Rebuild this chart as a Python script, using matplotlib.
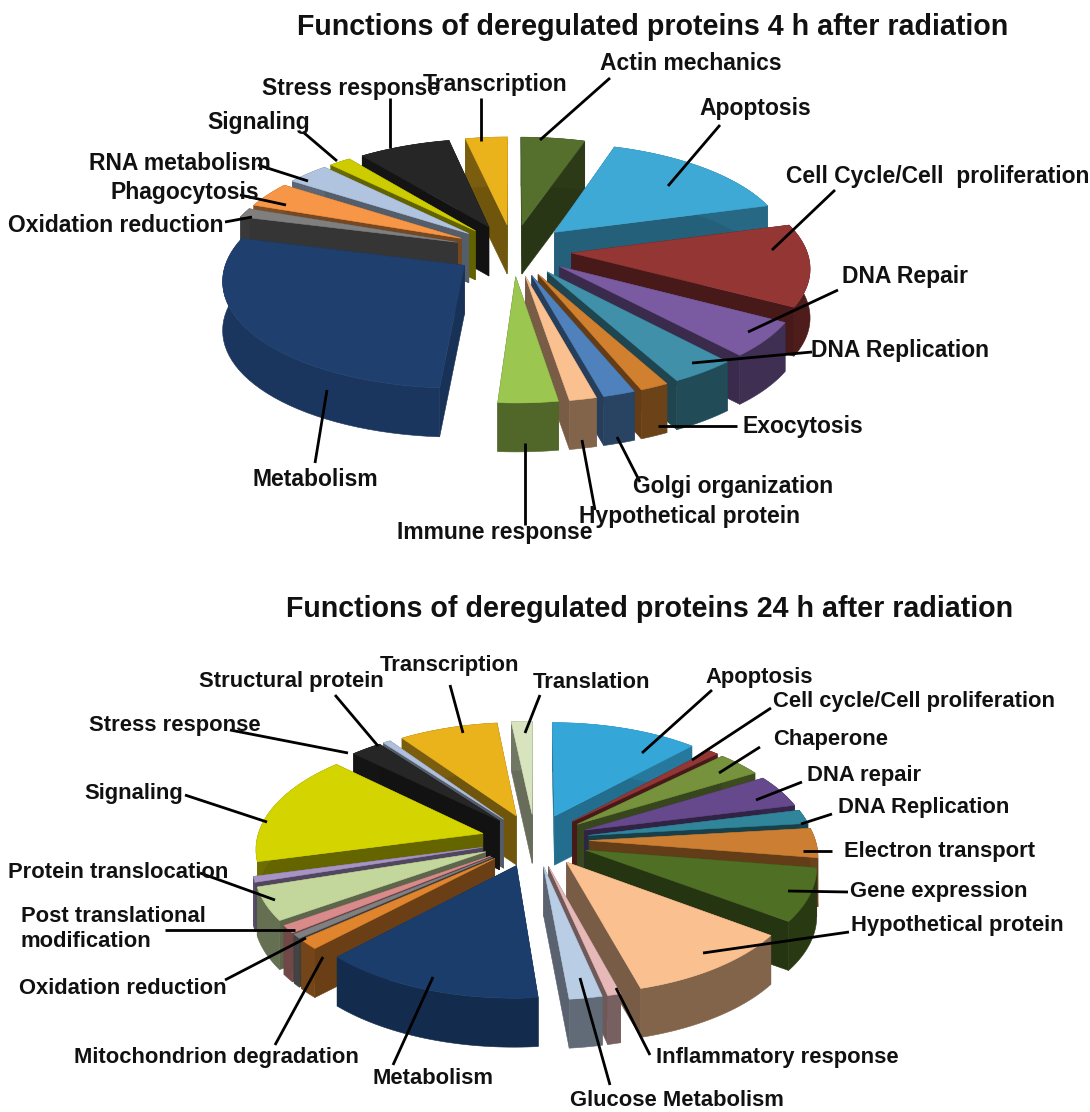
import numpy as np
import matplotlib
matplotlib.use("Agg")
import matplotlib.pyplot as plt
from matplotlib.patches import Polygon

plt.rcParams['font.family'] = ['Liberation Sans', 'DejaVu Sans']

# Share of deregulated proteins per function, 4 h after radiation
functions_4h = ["Actin mechanics", "Apoptosis", "Cell Cycle/Cell  proliferation", "DNA Repair",
                "DNA Replication", "Exocytosis", "Golgi organization", "Hypothetical protein",
                "Immune response", "Metabolism", "Oxidation reduction", "Phagocytosis",
                "RNA metabolism", "Signaling", "Stress response", "Transcription"]
shares_4h = [5.0, 15.5, 12.5, 5.3, 3.9, 1.7, 1.9, 1.6, 3.5, 28.0, 1.4, 3.9, 3.3, 1.7, 7.2, 3.3]
colors_4h = ["#55702d", "#3fa9d6", "#943634", "#7a5aa0", "#3f90a8", "#d0802f", "#4f81bd", "#fac090",
             "#9bc64f", "#1f3f6e", "#7f7f7f", "#f79646", "#b0c4e0", "#cccc00", "#262626", "#ebb31b"]

# Share of deregulated proteins per function, 24 h after radiation
functions_24h = ["Apoptosis", "Cell cycle/Cell proliferation", "Chaperone", "DNA repair",
                 "DNA Replication", "Electron transport", "Gene expression", "Hypothetical protein",
                 "Inflammatory response", "Glucose Metabolism", "Metabolism", "Mitochondrion degradation",
                 "Oxidation reduction", "Post translational\nmodification", "Protein translocation",
                 "", "Signaling", "Stress response", "Structural protein", "Transcription", "Translation"]
shares_24h = [11.9, 0.8, 3.6, 4.7, 2.0, 4.2, 7.5, 10.6, 0.8, 2.0, 13.6, 1.4,
              0.6, 1.1, 4.7, 0.8, 16.0, 2.5, 0.6, 8.0, 1.7]
colors_24h = ["#35a6d8", "#943634", "#76923c", "#66498c", "#31859b", "#cc7f33", "#4f6f24", "#fac090",
              "#e6b9b8", "#b9cde5", "#1b3d6c", "#e0842e", "#808080", "#d98a8a", "#c3d69b",
              "#a794c4", "#d4d400", "#262626", "#b0c0dc", "#ebb31b", "#d7e4bd"]

# Wall darkening per wedge; dark blue and grey need their own factor
WALL_SHADE = 0.52
wall_overrides_4h = {"Metabolism": 0.85, "Oxidation reduction": 0.45, "Apoptosis": 0.62}
wall_overrides_24h = {"Metabolism": 0.72, "Apoptosis": 0.72}

# Text placement: left edge x, vertical centre y, then the leader line
labels_4h = {
    "Actin mechanics": (600, 64, (610, 78), (540, 140)),
    "Apoptosis": (699, 109, (720, 125), (668, 186)),
    "Cell Cycle/Cell  proliferation": (786, 177, (835, 190), (772, 250)),
    "DNA Repair": (842, 277, (838, 290), (748, 332)),
    "DNA Replication": (811, 351, (812, 352), (692, 363)),
    "Exocytosis": (743, 427, (737, 426), (658, 426)),
    "Golgi organization": (633, 486, (640, 482), (617, 437)),
    "Hypothetical protein": (579, 517, (595, 510), (582, 440)),
    "Immune response": (397, 533, (525, 525), (525, 443)),
    "Metabolism": (252, 479, (315, 463), (327, 390)),
    "Oxidation reduction": (8, 225, (225, 222), (252, 217)),
    "Phagocytosis": (110, 192, (240, 195), (286, 205)),
    "RNA metabolism": (89, 164, (258, 165), (308, 181)),
    "Signaling": (207, 122, (303, 132), (337, 161)),
    "Stress response": (262, 89, (390, 98), (390, 148)),
    "Transcription": (423, 85, (481, 98), (481, 141)),
}
labels_24h = {
    "Apoptosis": (705, 677, (712, 690), (642, 753)),
    "Cell cycle/Cell proliferation": (773, 701, (771, 708), (692, 760)),
    "Chaperone": (773, 739, (760, 747), (719, 773)),
    "DNA repair": (807, 776, (802, 782), (756, 800)),
    "DNA Replication": (838, 807, (832, 814), (801, 824)),
    "Electron transport": (844, 852, (832, 851), (803, 851)),
    "Gene expression": (850, 891, (848, 892), (788, 891)),
    "Hypothetical protein": (851, 926, (849, 932), (703, 953)),
    "Inflammatory response": (656, 1057, (650, 1055), (616, 988)),
    "Glucose Metabolism": (570, 1101, (610, 1085), (580, 978)),
    "Metabolism": (372, 1079, (393, 1065), (433, 977)),
    "Mitochondrion degradation": (74, 1057, (275, 1045), (323, 957)),
    "Oxidation reduction": (19, 988, (225, 980), (306, 938)),
    "Post translational\nmodification": (21, 929, (165, 930), (295, 930)),
    "Protein translocation": (8, 873, (200, 873), (275, 900)),
    "Signaling": (84, 794, (185, 795), (267, 822)),
    "Stress response": (89, 726, (230, 730), (348, 753)),
    "Structural protein": (199, 681, (335, 695), (378, 746)),
    "Transcription": (380, 665, (450, 685), (463, 733)),
    "Translation": (533, 682, (540, 695), (525, 733)),
}


def darken(color, factor):
    r, g, b = matplotlib.colors.to_rgb(color)
    return (r * factor, g * factor, b * factor)


def project(u, v, geo):
    """Map ground-plane coordinates to the page with a mild perspective."""
    s = 1.0 / (1.0 + geo["persp"] * np.asarray(v))
    return geo["cx"] + geo["rx"] * np.asarray(u) * s, geo["cy"] - geo["ry"] * np.asarray(v) * s


def draw_pie(ax, names, shares, colors, overrides, geo):
    edges = np.concatenate([[0.0], np.cumsum(shares)]) / np.sum(shares) * 2 * np.pi
    mids = (edges[:-1] + edges[1:]) / 2
    # Paint from the back of the pie towards the viewer
    for i in np.argsort(-np.cos(mids)):
        ox, oy = geo["explode"] * np.sin(mids[i]), geo["explode"] * np.cos(mids[i])
        theta = np.linspace(edges[i], edges[i + 1], 40)
        u = np.concatenate([[ox], ox + np.sin(theta)])
        v = np.concatenate([[oy], oy + np.cos(theta)])
        x, y = project(u, v, geo)
        y_low = y + geo["depth"]
        top = colors[i]
        wall = darken(top, overrides.get(names[i], WALL_SHADE))
        cut = darken(top, overrides.get(names[i], WALL_SHADE) * 0.92)
        # Two radial cut faces, then the rim, then the top face
        for a in (1, len(x) - 1):
            quad = [(x[0], y[0]), (x[a], y[a]), (x[a], y_low[a]), (x[0], y_low[0])]
            ax.add_patch(Polygon(quad, closed=True, fc=cut, ec=cut, lw=0.4))
        rim = list(zip(x[1:], y[1:])) + list(zip(x[:0:-1], y_low[:0:-1]))
        ax.add_patch(Polygon(rim, closed=True, fc=wall, ec=wall, lw=0.4))
        ax.add_patch(Polygon(list(zip(x, y)), closed=True, fc=top, ec=top, lw=0.4))


def draw_labels(ax, labels, size):
    for text, (x, y, start, end) in labels.items():
        ax.plot([start[0], end[0]], [start[1], end[1]], color="black", lw=2.0,
                solid_capstyle="butt", zorder=5)
        ax.text(x, y, text, ha="left", va="center", fontsize=size, fontweight="bold",
                color="#111111", zorder=6, linespacing=1.2)


fig = plt.figure(figsize=(10.9, 11.12), dpi=100)
ax = fig.add_axes([0, 0, 1, 1])
ax.set_xlim(0, 1090)
ax.set_ylim(1112, 0)
ax.axis("off")

geo_4h = dict(cx=513, cy=250, rx=235, ry=104, persp=0.12, explode=0.25, depth=49)
geo_24h = dict(cx=535, cy=840, rx=226, ry=110, persp=0.12, explode=0.24, depth=49)

draw_pie(ax, functions_4h, shares_4h, colors_4h, wall_overrides_4h, geo_4h)
draw_pie(ax, functions_24h, shares_24h, colors_24h, wall_overrides_24h, geo_24h)

draw_labels(ax, labels_4h, 16.5)
draw_labels(ax, labels_24h, 15.8)

ax.text(297, 27, "Functions of deregulated proteins 4 h after radiation", ha="left", va="center",
        fontsize=20.6, fontweight="bold", color="#111111")
ax.text(286, 609, "Functions of deregulated proteins 24 h after radiation", ha="left", va="center",
        fontsize=20.6, fontweight="bold", color="#111111")

fig.savefig("out.png", dpi=100)
